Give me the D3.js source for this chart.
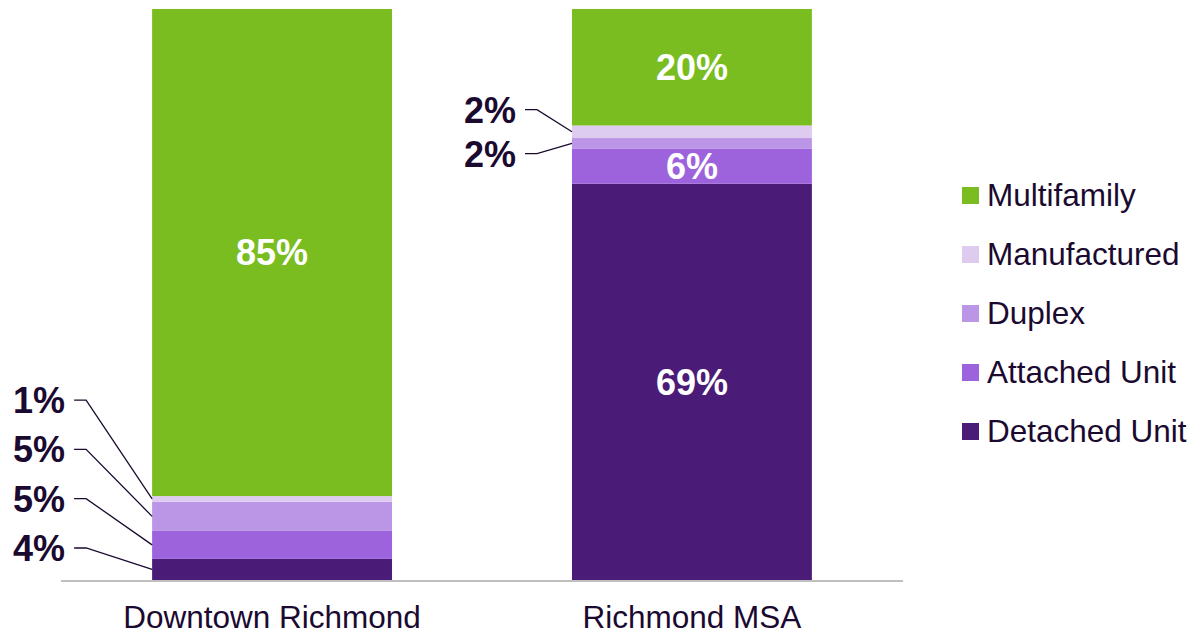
<!DOCTYPE html>
<html><head><meta charset="utf-8">
<script src="https://cdn.jsdelivr.net/npm/d3@7"></script>
<style>
html,body{margin:0;padding:0;background:#fff;}
svg{display:block;font-family:"Liberation Sans",Arial,sans-serif;}
</style></head>
<body>
<svg id="chart" width="1191" height="635"></svg>
<script>
const categories = ["Downtown Richmond", "Richmond MSA"];
const seriesNames = ["Detached Unit", "Attached Unit", "Duplex", "Manufactured", "Multifamily"];
const detachedUnit = [3.7, 69.4];
const attachedUnit = [4.9, 6.1];
const duplex = [5.1, 1.9];
const manufactured = [1.0, 2.2];
const multifamily = [85.3, 20.4];
const colors = ["#4a1b77", "#9c63dc", "#bc96e6", "#ddcbf0", "#79bd21"];
const textColor = "#1b0a30";

const seriesValues = [detachedUnit, attachedUnit, duplex, manufactured, multifamily];
const table = categories.map((c, i) => {
  const row = {category: c};
  seriesNames.forEach((s, j) => row[s] = seriesValues[j][i]);
  return row;
});

const svg = d3.select("#chart");
const x = d3.scaleBand().domain(categories).range([61, 903]).paddingInner(0.4286).paddingOuter(0.217);
const y = d3.scaleLinear().domain([0, 100]).range([580, 9]);
const color = d3.scaleOrdinal().domain(seriesNames).range(colors);

const stacked = d3.stack().keys(seriesNames)(table);

const g = svg.append("g");
stacked.forEach(layer => {
  g.selectAll(null).data(layer).enter().append("rect")
    .attr("x", d => x(d.data.category))
    .attr("y", d => y(d[1]))
    .attr("width", x.bandwidth())
    .attr("height", d => y(d[0]) - y(d[1]))
    .attr("fill", color(layer.key));
});

// axis
const axis = d3.axisBottom(x).tickSize(0).tickPadding(0);
const ax = svg.append("g").attr("transform", `translate(0,${y(0)})`).call(axis);
ax.select(".domain").attr("stroke", "#bfbfbf").attr("stroke-width", 2).attr("d", "M61,1H903");
ax.selectAll(".tick text").attr("font-size", 31.5).attr("fill", textColor)
  .attr("font-family", "Liberation Sans, Arial, sans-serif").attr("dy", null).attr("y", 48);

// labels
const threshold = 5.5;
const labelConf = {
  "Downtown Richmond": {mode: "bottom", spacing: 49.3, start: -32, gap: 87},
  "Richmond MSA": {mode: "center", spacing: 44, shift: -6, gap: 56}
};
categories.forEach((c, ci) => {
  const segs = stacked.map(layer => ({key: layer.key, d: layer[ci]}));
  const inside = segs.filter(s => s.d[1] - s.d[0] >= threshold);
  const outside = segs.filter(s => s.d[1] - s.d[0] < threshold);
  inside.forEach(s => {
    svg.append("text")
      .attr("x", x(c) + x.bandwidth() / 2)
      .attr("y", (y(s.d[0]) + y(s.d[1])) / 2)
      .attr("dy", "0.36em")
      .attr("text-anchor", "middle")
      .attr("font-size", 36).attr("font-weight", "bold").attr("fill", "#fff")
      .text(Math.round(s.d[1] - s.d[0]) + "%");
  });
  const conf = labelConf[c];
  const centers = outside.map(s => (y(s.d[0]) + y(s.d[1])) / 2);
  let ys;
  if (conf.mode === "bottom") {
    ys = outside.map((s, i) => y(0) + conf.start - i * conf.spacing);
  } else {
    const m = d3.mean(centers);
    const n = outside.length;
    ys = outside.map((s, i) => m + conf.shift + ((n - 1) / 2 - i) * conf.spacing);
  }
  const barLeft = x(c);
  outside.forEach((s, i) => {
    const ly = ys[i];
    const textRight = barLeft - conf.gap;
    svg.append("text")
      .attr("x", textRight)
      .attr("y", ly)
      .attr("dy", "0.36em")
      .attr("text-anchor", "end")
      .attr("font-size", 36).attr("font-weight", "bold").attr("fill", textColor)
      .text(Math.round(s.d[1] - s.d[0]) + "%");
    const x0 = textRight + 9, x1 = textRight + 21;
    svg.append("path")
      .attr("d", `M${x0},${ly}H${x1}L${barLeft},${centers[i]}`)
      .attr("fill", "none").attr("stroke", textColor).attr("stroke-width", 1.3);
  });
});

// legend
const legendOrder = seriesNames.slice().reverse();
const lg = svg.append("g").attr("transform", "translate(962,187)");
legendOrder.forEach((s, i) => {
  const row = lg.append("g").attr("transform", `translate(0,${i * 59})`);
  row.append("rect").attr("width", 17).attr("height", 17).attr("fill", color(s));
  row.append("text").attr("x", 25).attr("y", 19).attr("font-size", 31.5)
    .attr("fill", textColor).text(s);
});
</script>
</body></html>
